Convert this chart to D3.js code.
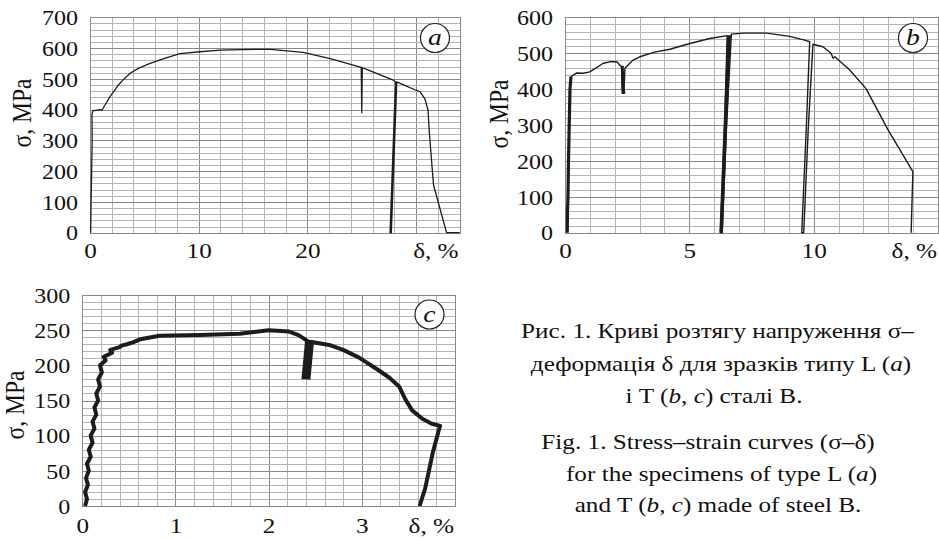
<!DOCTYPE html>
<html><head><meta charset="utf-8">
<script src="https://cdn.jsdelivr.net/npm/d3@7"></script>
<style>body{margin:0;background:#fff} svg{display:block} text{font-family:"Liberation Serif","DejaVu Serif",serif;fill:#111}</style>
</head><body><svg id="chart" width="939" height="539"></svg>
<script>
// ---------- DATA ----------
// Panel a (type L)
const aXLabels = [0, 10, 20];
const aYLabels = [0, 100, 200, 300, 400, 500, 600, 700];
const aStrain = [0.06,0.1,0.15,0.2,0.18,0.28,0.6,0.95,1.1,1.3,1.84,2.5,3.0,3.68,4.5,5.52,7,8.28,10.1,12,13.8,16.6,19.6,22.1,24.95,25.0,25.05,25.5,27.9,28.1,27.6,27.72,28.22,29,30,30.36,30.8,31.1,31.2,31.6,32.8,34];
const aStress = [0,100,200,300,385,397,398,400,398,410,442,475,495,518,535,550,568,582,588,593,595,596,586,566,537,390,536,530,496,490,0,0,490,478,463,458,436,398,333,155,0,0];

// Panel b (type T)
const bXLabels = [0, 5, 10];
const bYLabels = [0, 100, 200, 300, 400, 500, 600];
const bStrain = [0.24,0.47,0.74,1.0,1.54,1.8,2.08,2.2,2.28,2.3,2.37,2.41,2.74,3.01,3.6,4.22,5.02,5.82,6.52,6.42,6.25,6.32,6.5,6.69,7.2,8.1,9.04,9.6,9.84,9.7,9.52,9.6,9.78,9.97,10.37,10.7,10.78,10.85,11.45,12.1,12.98,13.99,13.92];
const bStress = [435,445,444,448,472,476,476,467,462,388,388,458,481,490,503,511,527,541,549,300,0,0,300,553,556,556,547,537,532,286,0,0,286,525,518,500,486,490,453,402,288,170,0];
// thick elastic / unloading bands of panel b
const bBand1Strain = [0.09,0.1,0.12,0.14,0.17,0.2,0.24];
const bBand1Stress = [0,60,100,200,300,400,435];
const bBand2Strain = [6.6,6.45,6.28];
const bBand2Stress = [550,300,0];
const bBand3Strain = [2.3,2.34,2.37];
const bBand3Stress = [465,400,388];

// Panel c (type T)
const cXLabels = [0, 1, 2, 3];
const cYLabels = [0, 50, 100, 150, 200, 250, 300];
const cStrain = [0.03,0.05,0.03,0.06,0.04,0.07,0.05,0.09,0.07,0.11,0.09,0.13,0.11,0.15,0.13,0.17,0.15,0.19,0.17,0.21,0.19,0.25,0.23,0.32,0.30,0.40,0.42,0.48,0.55,0.62,0.83,1.26,1.69,2.0,2.22,2.32,2.38,2.42,2.51,2.65,2.8,2.97,3.18,3.30,3.40,3.47,3.54,3.65,3.75,3.84,3.82,3.8,3.76,3.72,3.68,3.62];
const cStress = [0,10,20,30,40,50,60,70,80,90,100,110,120,130,140,150,160,170,180,190,200,207,212,218,222,226,228,230,233,237,242,243,245,250,248,243,238,234,232,229,222,211,193,182,170,151,136,124,117,114,105,95,75,50,25,0];
const cBandStrain = [2.44,2.42,2.40];
const cBandStress = [236,208,180];

// ---------- LAYOUT ----------
const SX = 1.2; // horizontal glyph stretch of the original figure
const svg = d3.select("#chart");

function stretchedText(parent, x, y, str, size, anchor) {
  return parent.append("text")
    .attr("transform", `translate(${x},${y}) scale(${SX},1)`)
    .attr("text-anchor", anchor).attr("font-size", size).text(str);
}

function panel(p) {
  const x = d3.scaleLinear().domain(p.xDomain).range([p.left, p.right]);
  const y = d3.scaleLinear().domain(p.yDomain).range([p.bottom, p.top]);
  const g = svg.append("g");
  const eps = 1e-9;
  const xs = d3.range(p.xDomain[0], p.xDomain[1] + eps, p.xMinor);
  const ys = d3.range(p.yDomain[0], p.yDomain[1] + eps, p.yMinor);
  const isMaj = (v, m) => Math.abs(v / m - Math.round(v / m)) < 1e-6;
  const grid = g.append("g").attr("shape-rendering", "crispEdges");
  grid.selectAll(".vx").data(xs).join("line")
    .attr("x1", d => Math.round(x(d)) + 0.5).attr("x2", d => Math.round(x(d)) + 0.5)
    .attr("y1", p.top).attr("y2", p.bottom)
    .attr("stroke", d => isMaj(d, p.xMajor) ? "#888" : "#b4b4b4").attr("stroke-width", 1);
  grid.selectAll(".hy").data(ys).join("line")
    .attr("y1", d => Math.round(y(d)) + 0.5).attr("y2", d => Math.round(y(d)) + 0.5)
    .attr("x1", p.left).attr("x2", p.right)
    .attr("stroke", d => isMaj(d, p.yMajor) ? "#888" : "#b4b4b4").attr("stroke-width", 1);
  grid.append("rect").attr("x", p.left + 0.5).attr("y", p.top + 0.5)
    .attr("width", p.right - p.left).attr("height", p.bottom - p.top)
    .attr("fill", "none").attr("stroke", "#8a8a8a");

  // axes (labels only)
  const fmt = d3.format("d");
  const ay = g.append("g").attr("transform", `translate(${p.left},0)`)
    .call(d3.axisLeft(y).tickValues(p.yLabels).tickFormat(fmt).tickSize(0).tickPadding(0));
  ay.select(".domain").remove();
  ay.selectAll("text").attr("font-family", "Liberation Serif").attr("font-size", 20).attr("fill", "#111")
    .attr("x", -12 / SX).attr("dy", "0.36em").attr("transform", `scale(${SX},1)`);
  const ax = g.append("g").attr("transform", `translate(0,${p.bottom})`)
    .call(d3.axisBottom(x).tickValues(p.xLabels).tickFormat(fmt).tickSize(0).tickPadding(0));
  ax.select(".domain").remove();
  ax.selectAll("text").attr("font-family", "Liberation Serif").attr("font-size", 21).attr("fill", "#111")
    .attr("y", p.xLabelOffset).attr("dy", 0).attr("transform", `scale(${SX},1)`);

  stretchedText(g, p.right - 1, p.bottom + p.xLabelOffset, "δ, %", 21, "end");
  // y title
  g.append("text").attr("transform", `translate(${p.titleX},${p.titleY}) scale(${SX},1) rotate(-90)`)
    .attr("text-anchor", "middle").attr("font-size", 23.5).text("σ, MPa");
  // panel letter
  g.append("circle").attr("cx", p.cx).attr("cy", p.cy).attr("r", 14.5)
    .attr("fill", "#fff").attr("stroke", "#222").attr("stroke-width", 1.2);
  g.append("text").attr("transform", `translate(${p.cx},${p.cy + 7}) scale(${SX},1)`)
    .attr("text-anchor", "middle").attr("font-style", "italic").attr("font-size", 23).text(p.letter);

  const line = d3.line().x(d => x(d[0])).y(d => y(d[1]));
  p.series.forEach(s => {
    g.append("path").attr("d", line(d3.zip(s.xs, s.ys)))
      .attr("fill", "none").attr("stroke", "#1c1c1c").attr("stroke-width", s.w)
      .attr("stroke-linejoin", "round").attr("stroke-linecap", "butt");
  });
}

panel({left: 90, right: 459.6, top: 17.3, bottom: 232.7, xDomain: [0, 34], yDomain: [0, 700],
  xMinor: 2, xMajor: 10, yMinor: 20, yMajor: 100, xLabels: aXLabels, yLabels: aYLabels, xLabelOffset: 25,
  titleX: 31, titleY: 113, cx: 435, cy: 38, letter: "a",
  series: [{xs: aStrain, ys: aStress, w: 1.3}]});

panel({left: 565, right: 938, top: 17.3, bottom: 232.7, xDomain: [0, 15], yDomain: [0, 600],
  xMinor: 1, xMajor: 5, yMinor: 20, yMajor: 100, xLabels: bXLabels, yLabels: bYLabels, xLabelOffset: 25,
  titleX: 508, titleY: 114, cx: 913, cy: 38, letter: "b",
  series: [{xs: bStrain, ys: bStress, w: 1.4}, {xs: bBand1Strain, ys: bBand1Stress, w: 3.2},
           {xs: bBand2Strain, ys: bBand2Stress, w: 3.6}, {xs: bBand3Strain, ys: bBand3Stress, w: 3}]});

panel({left: 82.3, right: 455, top: 295, bottom: 506, xDomain: [0, 4], yDomain: [0, 300],
  xMinor: 0.2, xMajor: 1, yMinor: 10, yMajor: 50, xLabels: cXLabels, yLabels: cYLabels, xLabelOffset: 27,
  titleX: 24, titleY: 405, cx: 429.5, cy: 314.5, letter: "c",
  series: [{xs: cStrain, ys: cStress, w: 4}, {xs: cBandStrain, ys: cBandStress, w: 9}]});

// ---------- CAPTION ----------
const caption = [
  {x: 717.5, y: 338, parts: [["Рис. 1. Криві розтягу напруження σ–", false]]},
  {x: 721, y: 371, parts: [["деформація δ для зразків типу L (", false], ["a", true], [")", false]]},
  {x: 714, y: 403, parts: [["і T (", false], ["b", true], [", ", false], ["c", true], [") сталі B.", false]]},
  {x: 708, y: 449, parts: [["Fig. 1. Stress–strain curves (σ–δ)", false]]},
  {x: 721.5, y: 481, parts: [["for the specimens of type L (", false], ["a", true], [")", false]]},
  {x: 718, y: 512, parts: [["and T (", false], ["b", true], [", ", false], ["c", true], [") made of steel B.", false]]}
];
caption.forEach(l => {
  const t = svg.append("text").attr("transform", `translate(${l.x},${l.y}) scale(${SX},1)`)
    .attr("text-anchor", "middle").attr("font-size", 21);
  l.parts.forEach(([s, it]) => t.append("tspan").attr("font-style", it ? "italic" : "normal").text(s));
});
</script></body></html>
